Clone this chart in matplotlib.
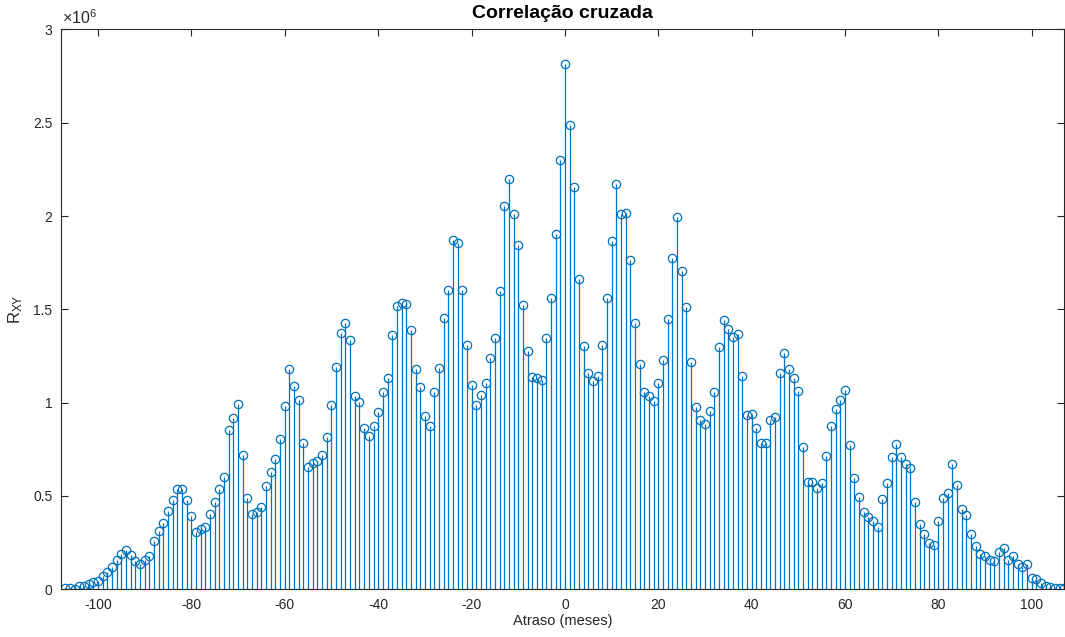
import numpy as np
import matplotlib
matplotlib.use("Agg")
import matplotlib.pyplot as plt

plt.rcParams['font.family'] = ['Liberation Sans', 'DejaVu Sans']
plt.rcParams['mathtext.fontset'] = 'custom'
plt.rcParams['mathtext.rm'] = 'Liberation Sans'
plt.rcParams['mathtext.it'] = 'Liberation Sans:italic'
plt.rcParams['axes.unicode_minus'] = False

# lags (months) and cross-correlation values (x 1e6)
lags = list(range(-107, 108))
rxy = [
    0.005, 0.006, 0.004, 0.015, 0.020, 0.030, 0.040, 0.045, 0.070, 0.090,   # -107..-98
    0.120, 0.155, 0.190, 0.210, 0.185, 0.150, 0.135, 0.155, 0.180, 0.260,   # -97..-88
    0.310, 0.355, 0.420, 0.480, 0.535, 0.535, 0.479, 0.392, 0.306, 0.322,   # -87..-78
    0.336, 0.401, 0.469, 0.536, 0.599, 0.856, 0.919, 0.991, 0.720, 0.491,   # -77..-68
    0.403, 0.415, 0.439, 0.554, 0.630, 0.696, 0.804, 0.981, 1.180, 1.090,   # -67..-58
    1.014, 0.782, 0.656, 0.674, 0.690, 0.720, 0.817, 0.990, 1.190, 1.375,   # -57..-48
    1.427, 1.336, 1.034, 1.002, 0.862, 0.820, 0.876, 0.948, 1.055, 1.130,   # -47..-38
    1.363, 1.518, 1.534, 1.526, 1.388, 1.180, 1.084, 0.930, 0.874, 1.055,   # -37..-28
    1.186, 1.451, 1.605, 1.869, 1.858, 1.605, 1.310, 1.092, 0.985, 1.043,   # -27..-18
    1.104, 1.240, 1.345, 1.600, 2.056, 2.196, 2.011, 1.842, 1.523, 1.278,   # -17..-8
    1.138, 1.132, 1.120, 1.345, 1.563, 1.905, 2.300, 2.815, 2.489, 2.155,   # -7..2
    1.663, 1.306, 1.158, 1.118, 1.142, 1.310, 1.563, 1.867, 2.172, 2.012,   # 3..12
    2.018, 1.764, 1.427, 1.209, 1.055, 1.035, 1.008, 1.104, 1.228, 1.449,   # 13..22
    1.776, 1.992, 1.706, 1.514, 1.217, 0.977, 0.905, 0.887, 0.955, 1.058,   # 23..32
    1.298, 1.442, 1.395, 1.352, 1.369, 1.144, 0.934, 0.937, 0.862, 0.782,   # 33..42
    0.783, 0.905, 0.921, 1.157, 1.268, 1.180, 1.130, 1.063, 0.760, 0.576,   # 43..52
    0.576, 0.545, 0.567, 0.714, 0.875, 0.968, 1.013, 1.070, 0.775, 0.596,   # 53..62
    0.493, 0.415, 0.388, 0.367, 0.333, 0.484, 0.567, 0.709, 0.779, 0.709,   # 63..72
    0.673, 0.651, 0.469, 0.351, 0.297, 0.248, 0.236, 0.364, 0.491, 0.518,   # 73..82
    0.669, 0.561, 0.432, 0.399, 0.298, 0.230, 0.188, 0.180, 0.158, 0.153,   # 83..92
    0.200, 0.221, 0.158, 0.176, 0.135, 0.118, 0.135, 0.063, 0.054, 0.032,   # 93..102
    0.018, 0.014, 0.005, 0.009, 0.005,                                      # 103..107
]

blue = '#0072BD'
dark = '#262626'

fig = plt.figure(figsize=(10.65, 6.37), dpi=100)
ax = fig.add_axes([0.057, 0.0749, 0.9425, 0.879])

markers, stems, base = ax.stem(lags, rxy, linefmt='-', markerfmt='o', basefmt=' ')
plt.setp(stems, color=blue, linewidth=0.9)
plt.setp(markers, markerfacecolor='none', markeredgecolor=blue,
         markersize=6, markeredgewidth=0.9)

ax.set_xlim(-108, 107)
ax.set_ylim(0, 3)
ax.set_xticks(range(-100, 101, 20))
ax.set_yticks([0, 0.5, 1, 1.5, 2, 2.5, 3])
ax.set_yticklabels(['0', '0.5', '1', '1.5', '2', '2.5', '3'])

for s in ax.spines.values():
    s.set_color(dark)
    s.set_linewidth(0.8)
ax.tick_params(direction='in', length=5, width=0.8, colors=dark,
               labelsize=10, top=True, right=True, pad=6)

ax.set_title('Correlação cruzada', fontsize=14, fontweight='bold', color='black', pad=8)
ax.set_xlabel('Atraso (meses)', fontsize=10.5, color=dark, labelpad=2)
ax.set_ylabel(r'R$_\mathrm{XY}$', fontsize=12, color=dark, labelpad=6)
ax.text(0.001, 1.004, r'$\times$10$^{6}$', transform=ax.transAxes,
        ha='left', va='bottom', fontsize=11.5, color=dark)

fig.savefig('out.png', dpi=100)
